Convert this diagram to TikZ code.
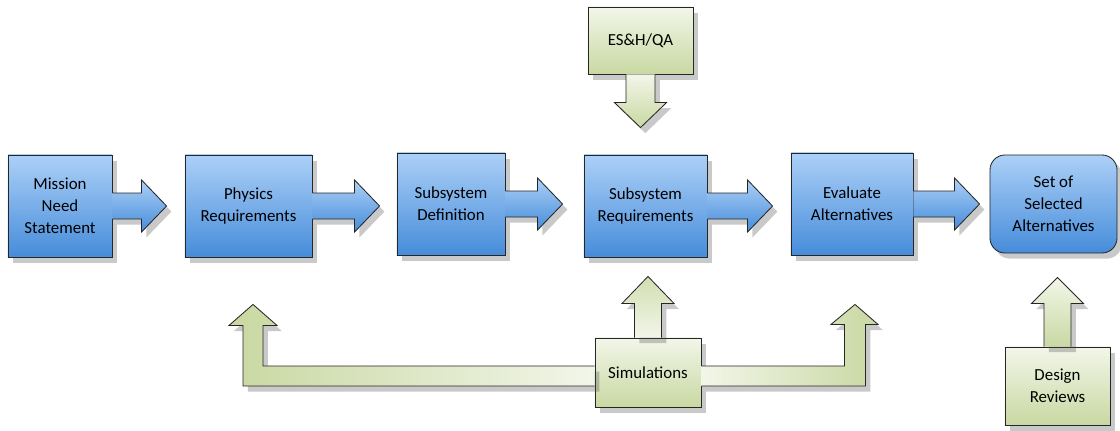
\documentclass[tikz,border=0pt]{standalone}
\usepackage{fontspec}
\setmainfont{Carlito}
\usetikzlibrary{calc,shadows}
\definecolor{boxtop}{RGB}{172,208,247}
\definecolor{boxbot}{RGB}{70,140,218}
\definecolor{grn}{RGB}{201,216,162}
\definecolor{grnlight}{RGB}{242,246,233}
\begin{document}
\begin{tikzpicture}[x  = {(0.025cm,0cm)},
                    y  = {(0cm,-0.025cm)},
                    color = {black}]
% style of boxes and block arrows
\tikzset{shade/.style={drop shadow={shadow xshift=0.12cm,shadow yshift=-0.14cm,opacity=.3,fill=black!70}}}
\tikzset{bluebox/.style={rectangle,draw=black!85,line width=0.6pt,top color=boxtop,bottom color=boxbot,shade,
                         minimum height=2.55cm,align=center,inner sep=2pt,font=\fontsize{12}{15.5}\selectfont}}
\tikzset{greenbox/.style={rectangle,draw=black!85,line width=0.6pt,top color=grnlight,bottom color=grn,shade,
                          align=center,inner sep=2pt,font=\fontsize{12}{15.5}\selectfont}}
\tikzset{bluearrow/.style={draw=black!85,line width=0.6pt,top color=boxtop,bottom color=boxbot,line join=miter,shade}}
\tikzset{greenarrow/.style={draw=black!85,line width=0.6pt,line join=miter,shade}}

\useasboundingbox (0,0) rectangle (1120,430);

%boxes
\node[bluebox,minimum width=2.6cm]   (mis)  at (60,206)    {Mission\\Need\\Statement};
\node[bluebox,minimum width=3.175cm] (phy)  at (248.5,206) {Physics\\Requirements};
\node[bluebox,minimum width=2.7cm]   (sdef) at (451,204)   {Subsystem\\Definition};
\node[bluebox,minimum width=3.075cm] (sreq) at (645.5,206) {Subsystem\\Requirements};
\node[bluebox,minimum width=3.05cm]  (eval) at (852,204)   {Evaluate\\Alternatives};
\node[bluebox,minimum width=3.175cm,minimum height=2.45cm,rounded corners=0.375cm]
                                     (sel)  at (1053.5,204) {Set of\\Selected\\Alternatives};
%inputs
\node[greenbox,minimum width=2.625cm,minimum height=1.675cm] (esh) at (640.5,40.5) {ES\&H/QA};
\node[greenbox,minimum width=2.65cm,minimum height=1.725cm]  (sim) at (648,372.5)  {Simulations};
\node[greenbox,minimum width=2.625cm,minimum height=1.95cm]  (des) at (1057.5,386) {Design\\Reviews};

%main flow
\foreach \a/\b/\g in {mis/phy/18,phy/sdef/17,sdef/sreq/21,sreq/eval/18,eval/sel/10}{
  \coordinate (t) at ($(\b.west)+(-\g,0)$);
  \coordinate (tip) at (t |- \a.east);
  \draw[bluearrow]
    ($(\a.east)+(0,-13)$) --
    ($(tip)+(-25,-13)$) --
    ($(tip)+(-25,-26)$) --
    (tip) --
    ($(tip)+(-25,26)$) --
    ($(tip)+(-25,13)$) --
    ($(\a.east)+(0,13)$);
}

%ES&H/QA
\coordinate (tip) at ($(esh.south |- sreq.north)+(0,-27)$);
\draw[greenarrow,top color=grnlight,bottom color=grn]
  ($(esh.south)+(-14.5,0)$) --
  ($(tip)+(-14.5,-25)$) --
  ($(tip)+(-26,-25)$) --
  (tip) --
  ($(tip)+(26,-25)$) --
  ($(tip)+(14.5,-25)$) --
  ($(esh.south)+(14.5,0)$);

%simulations
\coordinate (tip) at ($(sim.north |- sreq.south)+(0,19)$);
\draw[greenarrow,top color=grn!80!grnlight,bottom color=grnlight]
  ($(sim.north)+(-13.5,0)$) --
  ($(tip)+(-13.5,27)$) --
  ($(tip)+(-26,27)$) --
  (tip) --
  ($(tip)+(26,27)$) --
  ($(tip)+(13.5,27)$) --
  ($(sim.north)+(13.5,0)$);
\coordinate (lt) at ($(phy.south)+(4.5,47)$);
\draw[greenarrow,left color=grn,right color=grnlight]
  ($(sim.west)+(0,-6.5)$) --
  ($(lt |- sim.west)+(10,-6.5)$) --
  ($(lt)+(10,21)$) --
  ($(lt)+(24,21)$) --
  (lt) --
  ($(lt)+(-24,21)$) --
  ($(lt)+(-10,21)$) --
  ($(lt |- sim.west)+(-10,13.5)$) --
  ($(sim.west)+(0,13.5)$);
\coordinate (rt) at ($(eval.south)+(3,49)$);
\draw[greenarrow,left color=grnlight,right color=grn]
  ($(sim.east)+(0,-6.5)$) --
  ($(rt |- sim.east)+(-10.5,-6.5)$) --
  ($(rt)+(-10.5,20)$) --
  ($(rt)+(-24,20)$) --
  (rt) --
  ($(rt)+(23,20)$) --
  ($(rt)+(10.5,20)$) --
  ($(rt |- sim.east)+(10.5,13.5)$) --
  ($(sim.east)+(0,13.5)$);

%design reviews
\coordinate (tip) at ($(des.north |- sel.south)+(0,24)$);
\draw[greenarrow,top color=grnlight,bottom color=grn]
  ($(des.north)+(-13.5,0)$) --
  ($(tip)+(-13.5,26)$) --
  ($(tip)+(-26,26)$) --
  (tip) --
  ($(tip)+(26,26)$) --
  ($(tip)+(13.5,26)$) --
  ($(des.north)+(13.5,0)$);
\end{tikzpicture}
\end{document}
